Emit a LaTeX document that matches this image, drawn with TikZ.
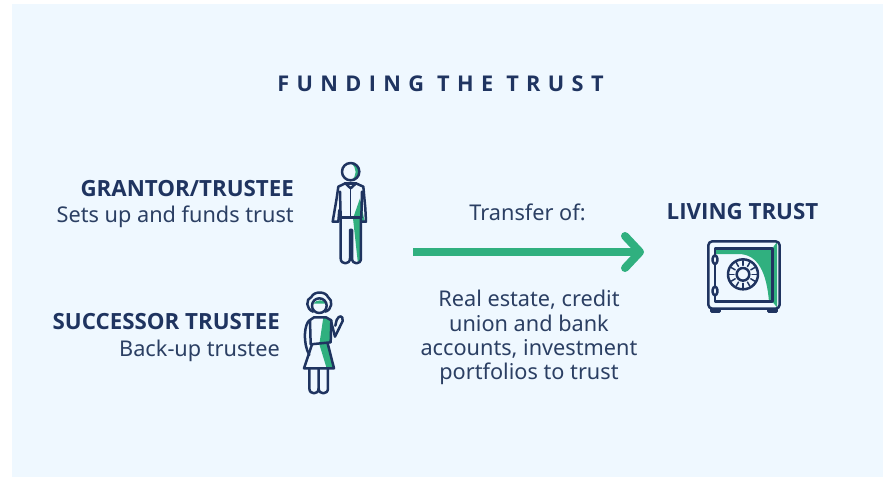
\documentclass[tikz,border=0pt]{standalone}
\usepackage{fontspec}
\setmainfont{Noto Sans}
\newfontfamily\boldfam{Open Sans}
\newfontfamily\ttlfont{Open Sans}[LetterSpace=34]
\usetikzlibrary{arrows.meta}
\definecolor{panel}{HTML}{EFF8FF}
\definecolor{navy}{HTML}{1F3460}
\definecolor{bodytxt}{HTML}{2B3F63}
\definecolor{accent}{HTML}{30B07F}
\tikzset{
 x=1pt,y=-1pt,
 lbl/.style={inner sep=0pt,text=bodytxt,font=\fontsize{21.7}{24.4}\selectfont,align=center},
 ttl/.style={inner sep=0pt,text=navy,font=\fontsize{22.3}{24.4}\selectfont\boldfam\bfseries},
 ttlbig/.style={inner sep=0pt,text=navy,font=\fontsize{21.7}{24.4}\selectfont\ttlfont\bfseries},
 ico/.style={draw=navy,line width=2.5,line join=round,line cap=round,fill=none},
 icothin/.style={draw=navy,line width=1.5,line join=round,line cap=round,fill=none},
 gfill/.style={fill=accent,draw=none},
 zoomed/.style={x=0.3333pt,y=-0.3333pt},
}
\begin{document}
\begin{tikzpicture}
\useasboundingbox (0,0) rectangle (889,477);
\fill[white] (0,0) rectangle (889,477);
\fill[panel] (12,4) rectangle (883,477);
\node[ttlbig,anchor=base] (title) at (440.5,91) {FUNDING THE TRUST};
\node[ttl,anchor=base east] (grantor) at (294,196) {GRANTOR/TRUSTEE};
\node[lbl,anchor=base east] (grantorsub) at (294,222.5) {Sets up and funds trust};
\node[ttl,anchor=base east] (succ) at (280,329) {SUCCESSOR TRUSTEE};
\node[lbl,anchor=base east] (succsub) at (280,356) {Back-up trustee};
\node[lbl,anchor=base] (transfer) at (527.5,220) {Transfer of:};
\node[ttl,anchor=base] (living) at (742.5,219) {LIVING TRUST};
\node[lbl,anchor=north] (assets) at (529,290) {Real estate, credit\\union and bank\\accounts, investment\\portfolios to trust};
% arrow
\coordinate (flowstart) at (413,252);
\coordinate (flowend) at (644,252);
\draw[accent,line width=8,-{Straight Barb[length=15pt,width=32pt,line width=8pt,round=false]}] (flowstart) -- (flowend);
% man
\begin{scope}[shift={(320,155)},zoomed]
\fill[gfill] (92,25) .. controls (126,25) and (126,76) .. (92,76) .. controls (112,66) and (112,36) .. (92,25) -- cycle;
\fill[gfill] (120,130) -- (99,190) -- (113,318) -- (122,318) -- (122,200) -- (134,200) -- cycle;
\draw[ico] (92,50) circle (26);
\draw[ico] (62,187) -- (60,110) (124,187) -- (126,110);
\draw[ico] (62,187) -- (124,187);
\draw[ico] (76,85) -- (55,95) -- (50,130) -- (38,200) -- (55,200) -- (58,165);
\draw[ico] (108,85) -- (130,95) -- (136,160) -- (138,200) -- (124,200);
\draw[ico] (76,85) -- (108,85);
\draw[ico] (76,85) -- (92,100) -- (108,85);
\draw[icothin] (92,100) -- (92,187);
\draw[ico] (62,187) -- (62,310) .. controls (62,330) and (90,330) .. (90,310) -- (90,225) -- (96,225) -- (96,310) .. controls (96,330) and (123,330) .. (123,310) -- (123,187);
\end{scope}
% woman
\begin{scope}[shift={(290,285)},zoomed]
\fill[gfill] (90,46) .. controls (98,44) and (106,50) .. (108,56) -- (70,56) .. controls (74,50) and (82,46) .. (90,46) -- cycle;
\fill[gfill] (100,97) -- (125,105) -- (123,172) -- (88,178) -- cycle;
\fill[gfill] (88,178) -- (113,175) -- (132,250) -- (110,250) -- cycle;
\draw[ico] (88,62) circle (22);
\draw[ico] (70,80) .. controls (48,74) and (46,42) .. (64,36) .. controls (72,18) and (106,18) .. (114,36) .. controls (130,46) and (126,74) .. (106,80);
\draw[ico] (62,178) -- (60,105) -- (72,97) -- (108,97) -- (124,106) -- (122,172) -- (62,178);
\draw[ico] (60,105) .. controls (42,115) and (38,175) .. (58,210);
\draw[ico] (124,112) -- (135,155) -- (158,108) .. controls (160,90) and (146,90) .. (140,105) -- (136,122);
\draw[ico] (66,178) -- (42,250) -- (132,250) -- (113,175);
\draw[ico] (58,250) -- (58,310) .. controls (58,330) and (86,330) .. (86,310) -- (86,250);
\draw[ico] (86,310) .. controls (86,330) and (114,330) .. (114,310) -- (114,250);
\end{scope}
% safe
\begin{scope}[shift={(695,230)},zoomed]
\fill[gfill] (60,55) -- (232,55) -- (232,215) -- (222,215) .. controls (215,130) and (190,72) .. (130,72) -- (60,72) -- cycle;
\fill[gfill] (232,55) -- (246,36) -- (246,232) -- (232,215) -- cycle;
\draw[ico,rounded corners=4] (40,34) rectangle (254,236);
\draw[ico] (60,55) rectangle (232,215);
\draw[ico] (50,238) -- (50,244) -- (74,244) -- (74,238);
\draw[ico] (220,238) -- (220,244) -- (244,244) -- (244,238);
\draw[ico,fill=panel,rounded corners=3] (53,76) rectangle (67,102);
\draw[ico,fill=panel,rounded corners=3] (53,170) rectangle (67,196);
\draw[ico,fill=panel] (144,133) circle (45);
\draw[ico] (144,133) circle (19);
\foreach \a in {0,30,...,330}{\draw[icothin] (144,133) ++(\a:27) -- ++(\a:14);}
\end{scope}
\end{tikzpicture}
\end{document}
